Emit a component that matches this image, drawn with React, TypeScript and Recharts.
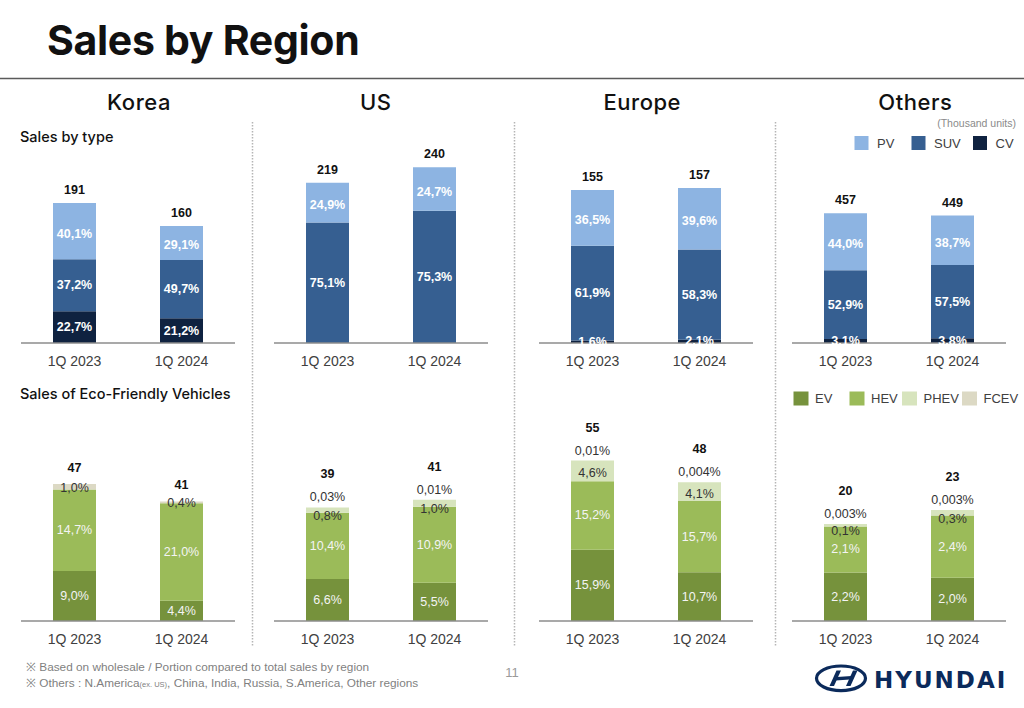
import React from 'react';
import { BarChart, Bar, XAxis, YAxis, LabelList } from 'recharts';

// ---------- DATA ----------
const periods = ['1Q 2023', '1Q 2024'];
const regions = ['Korea', 'US', 'Europe', 'Others'];

// Sales by type, thousand units (index: region, then period)
const pvUnits = [[76.6, 46.6], [54.5, 59.3], [56.6, 62.2], [201.1, 173.8]];
const suvUnits = [[71.1, 79.5], [164.5, 180.7], [95.9, 91.5], [241.8, 258.2]];
const cvUnits = [[43.4, 33.9], [0, 0], [2.5, 3.3], [14.2, 17.1]];
const typeTotals = [[191, 160], [219, 240], [155, 157], [457, 449]];
const pvShare = [['40,1%', '29,1%'], ['24,9%', '24,7%'], ['36,5%', '39,6%'], ['44,0%', '38,7%']];
const suvShare = [['37,2%', '49,7%'], ['75,1%', '75,3%'], ['61,9%', '58,3%'], ['52,9%', '57,5%']];
const cvShare = [['22,7%', '21,2%'], ['', ''], ['1,6%', '2,1%'], ['3,1%', '3,8%']];

// Sales of eco-friendly vehicles, thousand units
const evUnits = [[17.2, 7.0], [14.5, 13.2], [24.6, 16.8], [10.1, 9.0]];
const hevUnits = [[28.1, 33.6], [22.8, 26.2], [23.6, 24.6], [9.6, 13.0]];
const phevUnits = [[0, 0], [1.8, 2.4], [7.1, 6.4], [0.5, 1.1]];
const fcevUnits = [[1.9, 0.6], [0.07, 0.02], [0.02, 0.01], [0.01, 0.01]];
const ecoTotals = [[47, 41], [39, 41], [55, 48], [20, 23]];
const evShare = [['9,0%', '4,4%'], ['6,6%', '5,5%'], ['15,9%', '10,7%'], ['2,2%', '2,0%']];
const hevShare = [['14,7%', '21,0%'], ['10,4%', '10,9%'], ['15,2%', '15,7%'], ['2,1%', '2,4%']];
const phevShare = [['', ''], ['0,8%', '1,0%'], ['4,6%', '4,1%'], ['0,1%', '0,3%']];
const fcevShare = [['1,0%', '0,4%'], ['0,03%', '0,01%'], ['0,01%', '0,004%'], ['0,003%', '0,003%']];

// axis ranges (thousand units)
const typeAxisMax = [250, 250, 185.4, 645];
const ecoAxisMax = [62.4, 62.4, 62.4, 37.7];

const typeLegend = ['PV', 'SUV', 'CV'];
const ecoLegend = ['EV', 'HEV', 'PHEV', 'FCEV'];

// ---------- STYLE ----------
const C_PV = '#8db4e2';
const C_SUV = '#365f91';
const C_CV = '#0f2240';
const C_EV = '#76923c';
const C_HEV = '#9bbb59';
const C_PHEV = '#d7e4bd';
const C_FCEV = '#dcd9c4';
const LF = "'Liberation Sans', Arial, sans-serif";
const HF = "Inter, 'Noto Sans', sans-serif";
const PLOT_LEFTS = [21, 274, 539, 792];
const PLOT_W = 214;

const getBox = (p: any) => {
  const vb = p.viewBox && p.viewBox.width !== undefined ? p.viewBox : p;
  return { x: Number(vb.x), y: Number(vb.y), w: Number(vb.width), h: Number(vb.height) };
};

const insideLabel = (fill: string, weight: number, shift: number) => (p: any) => {
  if (!p.value) return null;
  const { x, y, w, h } = getBox(p);
  return (
    <text x={x + w / 2} y={y + h / 2 + (h > 20 ? shift : 0)} fill={fill} fontSize={12.5} fontWeight={weight}
      fontFamily={LF} textAnchor="middle" dominantBaseline="central">{p.value}</text>
  );
};

const totalLabel = (offset: (i: number) => number) => (p: any) => {
  const { x, y, w } = getBox(p);
  return (
    <text x={x + w / 2} y={y - offset(p.index)} fill="#111" fontSize={12.5} fontWeight={700}
      fontFamily={LF} textAnchor="middle" dominantBaseline="central">{p.value}</text>
  );
};

const xAxisProps = {
  dataKey: 'period',
  height: 32,
  tickLine: false,
  tickMargin: 7,
  axisLine: { stroke: '#8c8c8c', strokeWidth: 1.5 },
  tick: { fill: '#404040', fontSize: 14, fontFamily: LF },
  interval: 0 as const,
};

function TypeChart({ r }: { r: number }) {
  const data = periods.map((p, i) => ({
    period: p,
    pv: pvUnits[r][i], suv: suvUnits[r][i], cv: cvUnits[r][i],
    total: typeTotals[r][i],
    pvL: pvShare[r][i], suvL: suvShare[r][i], cvL: cvShare[r][i],
  }));
  return (
    <div style={{ position: 'absolute', left: PLOT_LEFTS[r], top: 120 }}>
      <BarChart width={PLOT_W} height={40 + 183 + 32} data={data}
        margin={{ top: 40, right: 0, bottom: 0, left: 0 }} barSize={43}>
        <XAxis {...xAxisProps} />
        <YAxis hide domain={[0, typeAxisMax[r]]} />
        <Bar dataKey="cv" stackId="s" fill={C_CV} isAnimationActive={false}>
          <LabelList dataKey="cvL" content={insideLabel('#fff', 700, 0)} />
        </Bar>
        <Bar dataKey="suv" stackId="s" fill={C_SUV} isAnimationActive={false}>
          <LabelList dataKey="suvL" content={insideLabel('#fff', 700, 0)} />
        </Bar>
        <Bar dataKey="pv" stackId="s" fill={C_PV} isAnimationActive={false}>
          <LabelList dataKey="pvL" content={insideLabel('#fff', 700, 2.5)} />
          <LabelList dataKey="total" content={totalLabel(() => 13)} />
        </Bar>
      </BarChart>
    </div>
  );
}

function EcoChart({ r }: { r: number }) {
  const data = periods.map((p, i) => ({
    period: p,
    ev: evUnits[r][i], hev: hevUnits[r][i], phev: phevUnits[r][i], fcev: fcevUnits[r][i],
    total: ecoTotals[r][i],
    evL: evShare[r][i], hevL: hevShare[r][i], phevL: phevShare[r][i], fcevL: fcevShare[r][i],
  }));
  const hasPhev = (i: number) => data[i].phev > 0;

  const phevLabel = (p: any) => {
    if (!p.value) return null;
    const { x, y, w, h } = getBox(p);
    const cy = h >= 12 ? y + h / 2 + 2 : y + h / 2 + 6;
    return (
      <text x={x + w / 2} y={cy} fill="#333" fontSize={12.5} fontFamily={LF}
        textAnchor="middle" dominantBaseline="central">{p.value}</text>
    );
  };
  const fcevLabel = (p: any) => {
    if (!p.value) return null;
    const { x, y, w, h } = getBox(p);
    const cy = hasPhev(p.index) ? y - 10 : y + h / 2 + 1;
    return (
      <text x={x + w / 2} y={cy} fill="#333" fontSize={12.5} fontFamily={LF}
        textAnchor="middle" dominantBaseline="central">{p.value}</text>
    );
  };

  return (
    <div style={{ position: 'absolute', left: PLOT_LEFTS[r], top: 400 }}>
      <BarChart width={PLOT_W} height={40 + 181 + 32} data={data}
        margin={{ top: 40, right: 0, bottom: 0, left: 0 }} barSize={43}>
        <XAxis {...xAxisProps} />
        <YAxis hide domain={[0, ecoAxisMax[r]]} />
        <Bar dataKey="ev" stackId="s" fill={C_EV} isAnimationActive={false}>
          <LabelList dataKey="evL" content={insideLabel('#f4f4f4', 400, 0)} />
        </Bar>
        <Bar dataKey="hev" stackId="s" fill={C_HEV} isAnimationActive={false}>
          <LabelList dataKey="hevL" content={insideLabel('#f4f4f4', 400, 0)} />
        </Bar>
        <Bar dataKey="phev" stackId="s" fill={C_PHEV} isAnimationActive={false}>
          <LabelList dataKey="phevL" content={phevLabel} />
        </Bar>
        <Bar dataKey="fcev" stackId="s" fill={C_FCEV} isAnimationActive={false}>
          <LabelList dataKey="fcevL" content={fcevLabel} />
          <LabelList dataKey="total" content={totalLabel((i) => (hasPhev(i) ? 33 : 16))} />
        </Bar>
      </BarChart>
    </div>
  );
}

const headerX = [139, 375.7, 642.3, 915.3];
const typeLegendX = [854.5, 911.5, 973];
const typeLegendColors = [C_PV, C_SUV, C_CV];
const ecoLegendX = [793.5, 849.5, 902, 962];
const ecoLegendColors = [C_EV, C_HEV, C_PHEV, C_FCEV];

function Decor() {
  const navy = '#0b2a5b';
  return (
    <svg width={1024} height={708} style={{ position: 'absolute', left: 0, top: 0 }}>
      <text x={47} y={55} fontFamily={HF} fontWeight={700} fontSize={41} fill="#111" letterSpacing={-0.3}>Sales by Region</text>
      <line x1={0} x2={1024} y1={78.5} y2={78.5} stroke="#5a5a5a" strokeWidth={1.5} />
      {regions.map((name, i) => (
        <text key={name} x={headerX[i]} y={109.5} fontFamily={HF} fontWeight={500} fontSize={22}
          fill="#111" textAnchor="middle" letterSpacing={0.5}>{name}</text>
      ))}
      {[252.5, 514.5, 775.5].map((x) => (
        <line key={x} x1={x} x2={x} y1={122} y2={646} stroke="#b5b5b5" strokeWidth={1.5} strokeDasharray="1.5 1.5" />
      ))}
      <text x={20} y={141.5} fontFamily={HF} fontWeight={500} fontSize={14.5} fill="#111">Sales by type</text>
      <text x={20} y={399} fontFamily={HF} fontWeight={500} fontSize={14.5} fill="#111">Sales of Eco-Friendly Vehicles</text>
      <text x={1016} y={126.5} fontFamily={LF} fontSize={10.5} fill="#8a8a8a" textAnchor="end">(Thousand units)</text>
      {typeLegend.map((n, i) => (
        <g key={n}>
          <rect x={typeLegendX[i]} y={136} width={14} height={14} fill={typeLegendColors[i]} />
          <text x={typeLegendX[i] + 22.5} y={147.5} fontFamily={LF} fontSize={13} fill="#404040">{n}</text>
        </g>
      ))}
      {ecoLegend.map((n, i) => (
        <g key={n}>
          <rect x={ecoLegendX[i]} y={391.5} width={15} height={14} fill={ecoLegendColors[i]} />
          <text x={ecoLegendX[i] + 21.5} y={403} fontFamily={LF} fontSize={13} fill="#404040">{n}</text>
        </g>
      ))}
      <text x={26} y={670.5} fontFamily={LF} fontSize={11.8} fill="#7f7f7f">※ Based on wholesale / Portion compared to total sales by region</text>
      <text x={26} y={686.5} fontFamily={LF} fontSize={11.8} fill="#7f7f7f">
        ※ Others : N.America<tspan fontSize={7.5}>(ex. US)</tspan>, China, India, Russia, S.America, Other regions
      </text>
      <text x={512} y={676.5} fontFamily={LF} fontSize={13} fill="#9a9a9a" textAnchor="middle">11</text>
      <ellipse cx={841} cy={678.3} rx={24.5} ry={12.3} fill="none" stroke={navy} strokeWidth={3.2} />
      <path d="M829.5,686 L836.5,670.5 L841,670.5 L834,686 Z" fill={navy} />
      <path d="M846,686 L853,670.5 L857.5,670.5 L850.5,686 Z" fill={navy} />
      <path d="M835.5,680.5 L837,677 L851.5,676 L850,679.5 Z" fill={navy} />
      <text x={874} y={687.5} fontFamily="'DejaVu Sans', sans-serif" fontWeight={700} fontSize={23}
        fill={navy} letterSpacing={2}>HYUNDAI</text>
    </svg>
  );
}

export default function App() {
  return (
    <div style={{ position: 'absolute', left: 0, top: 0, width: 1024, height: 708, background: '#fff', overflow: 'hidden' }}>
      <Decor />
      {regions.map((_, r) => <TypeChart key={'t' + r} r={r} />)}
      {regions.map((_, r) => <EcoChart key={'e' + r} r={r} />)}
    </div>
  );
}
